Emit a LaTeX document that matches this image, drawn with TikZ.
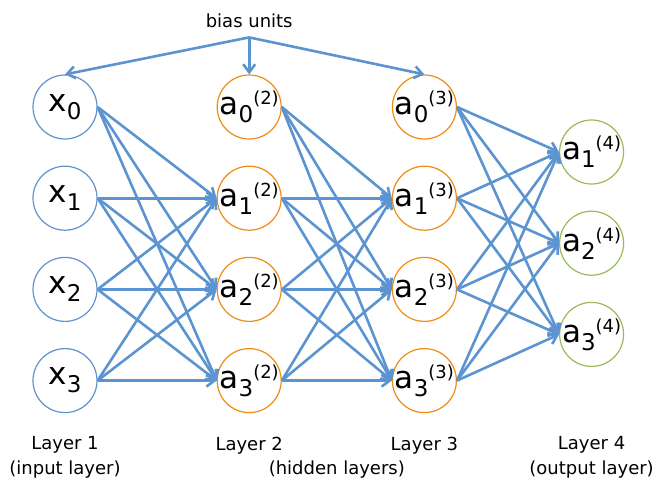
\documentclass[tikz,border=0pt]{standalone}
\usepackage{fontspec}
\setmainfont{DejaVu Sans}
\usetikzlibrary{positioning,arrows.meta,calc}

\definecolor{linkblue}{RGB}{91,148,208}
\definecolor{inblue}{RGB}{96,146,206}
\definecolor{hidorange}{RGB}{240,140,20}
\definecolor{outgreen}{RGB}{155,187,89}

% sub- and superscripts of the unit labels
\newcommand{\unitsub}[1]{\raisebox{-8pt}{\fontsize{23}{23}\selectfont #1}}
\newcommand{\unitsup}[1]{\raisebox{10pt}{\fontsize{18}{18}\selectfont (#1)}}
% zero width, so the label never widens its circle
\newcommand{\inunit}[1]{\makebox[0pt]{x\unitsub{#1}}}
\newcommand{\actunit}[2]{\makebox[0pt]{a\unitsub{#1}\unitsup{#2}}}

\begin{document}
\begin{tikzpicture}[x=1pt,y=-1pt,node distance=26pt and 119pt]
\tikzstyle{unit}=[circle, draw, fill=white, line width=1.2pt, minimum size=64pt, inner sep=0pt, font=\fontsize{31}{31}\selectfont]
\tikzstyle{input}=[unit, draw=inblue]
\tikzstyle{hidden}=[unit, draw=hidorange]
\tikzstyle{output}=[unit, draw=outgreen]
\tikzstyle{caption}=[align=center, font=\fontsize{18}{25}\selectfont]
\tikzstyle{link}=[linkblue, line width=2.6pt, -{Straight Barb[length=8pt,width=12pt]}]
\useasboundingbox (0,0) rectangle (662,480);

% layer 1
\node[input] (x0) at (65,107) {\inunit{0}};
\node[input, below=of x0] (x1) {\inunit{1}};
\node[input, below=of x1] (x2) {\inunit{2}};
\node[input, below=of x2] (x3) {\inunit{3}};

% layer 2
\node[hidden, right=of x0] (a02) {\actunit{0}{2}};
\node[hidden, right=of x1] (a12) {\actunit{1}{2}};
\node[hidden, right=of x2] (a22) {\actunit{2}{2}};
\node[hidden, right=of x3] (a32) {\actunit{3}{2}};

% layer 3
\node[hidden, right=110pt of a02] (a03) {\actunit{0}{3}};
\node[hidden, right=110pt of a12] (a13) {\actunit{1}{3}};
\node[hidden, right=110pt of a22] (a23) {\actunit{2}{3}};
\node[hidden, right=110pt of a32] (a33) {\actunit{3}{3}};

% layer 4
\node[output, right=102pt of a03, yshift=-45pt] (a14) {\actunit{1}{4}};
\node[output, below=of a14] (a24) {\actunit{2}{4}};
\node[output, below=of a24] (a34) {\actunit{3}{4}};

% weights
\foreach \s in {x0,x1,x2,x3}
  \foreach \t in {a12,a22,a32}
    \draw[link] (\s.east) -- (\t.west);
\foreach \s in {a02,a12,a22,a32}
  \foreach \t in {a13,a23,a33}
    \draw[link] (\s.east) -- (\t.west);
\foreach \s in {a03,a13,a23,a33}
  \foreach \t in {a14,a24,a34}
    \draw[link] (\s.east) -- (\t.west);

% bias units
\node[caption, above=37pt of a02, inner ysep=9pt] (bias) {bias units};
\draw[link] (bias.south) -- (x0.north);
\draw[link] (bias.south) -- (a02.north);
\draw[link] (bias.south) -- (a03.north);

% captions
\node[caption, below=20pt of x3] (lay1) {Layer 1\\(input layer)};
\node[caption, below=20pt of a32] (lay2) {Layer 2};
\node[caption, below=20pt of a33] (lay3) {Layer 3};
\node[caption, anchor=north] (hid) at ($(lay2.south)!0.5!(lay3.south)$) {(hidden layers)};
\node[caption, anchor=north] (lay4) at (lay1.north -| a34) {Layer 4\\(output layer)};
\end{tikzpicture}
\end{document}
